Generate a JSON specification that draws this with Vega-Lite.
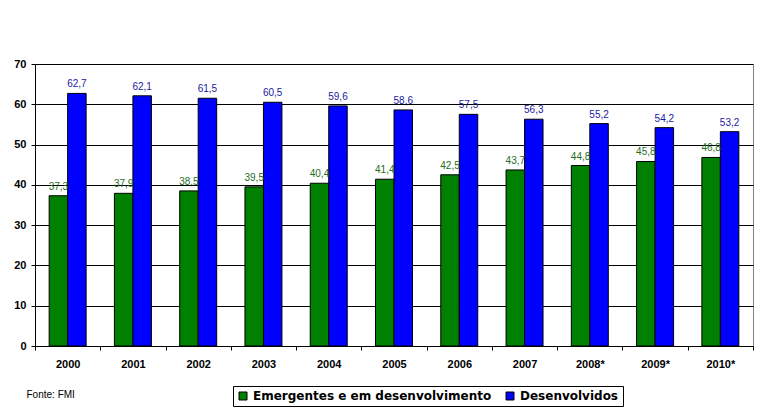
{
  "$schema": "https://vega.github.io/schema/vega-lite/v6.json",
  "autosize": {"type": "none"},
  "width": 718,
  "height": 282,
  "padding": {"left": 35, "top": 64, "right": 14, "bottom": 67},
  "background": "white",
  "config": {
    "locale": {"number": {"decimal": ",", "thousands": ".", "grouping": [3], "currency": ["", ""]}},
    "view": {"stroke": "#808080", "strokeWidth": 1},
    "font": "Liberation Sans"
  },
  "data": {
    "values": [
      {"ano": "2000", "serie": "Emergentes e em desenvolvimento", "valor": 37.3},
      {"ano": "2001", "serie": "Emergentes e em desenvolvimento", "valor": 37.9},
      {"ano": "2002", "serie": "Emergentes e em desenvolvimento", "valor": 38.5},
      {"ano": "2003", "serie": "Emergentes e em desenvolvimento", "valor": 39.5},
      {"ano": "2004", "serie": "Emergentes e em desenvolvimento", "valor": 40.4},
      {"ano": "2005", "serie": "Emergentes e em desenvolvimento", "valor": 41.4},
      {"ano": "2006", "serie": "Emergentes e em desenvolvimento", "valor": 42.5},
      {"ano": "2007", "serie": "Emergentes e em desenvolvimento", "valor": 43.7},
      {"ano": "2008*", "serie": "Emergentes e em desenvolvimento", "valor": 44.8},
      {"ano": "2009*", "serie": "Emergentes e em desenvolvimento", "valor": 45.8},
      {"ano": "2010*", "serie": "Emergentes e em desenvolvimento", "valor": 46.8},
      {"ano": "2000", "serie": "Desenvolvidos", "valor": 62.7},
      {"ano": "2001", "serie": "Desenvolvidos", "valor": 62.1},
      {"ano": "2002", "serie": "Desenvolvidos", "valor": 61.5},
      {"ano": "2003", "serie": "Desenvolvidos", "valor": 60.5},
      {"ano": "2004", "serie": "Desenvolvidos", "valor": 59.6},
      {"ano": "2005", "serie": "Desenvolvidos", "valor": 58.6},
      {"ano": "2006", "serie": "Desenvolvidos", "valor": 57.5},
      {"ano": "2007", "serie": "Desenvolvidos", "valor": 56.3},
      {"ano": "2008*", "serie": "Desenvolvidos", "valor": 55.2},
      {"ano": "2009*", "serie": "Desenvolvidos", "valor": 54.2},
      {"ano": "2010*", "serie": "Desenvolvidos", "valor": 53.2}
    ]
  },
  "encoding": {
    "x": {
      "field": "ano", "type": "nominal", "sort": null,
      "scale": {"paddingInner": 0, "paddingOuter": 0},
      "axis": {
        "title": "Fonte: FMI",
        "titleFontSize": 10, "titleFontWeight": "normal", "titleColor": "black",
        "titleAnchor": "start", "titleAlign": "left", "titleBaseline": "alphabetic",
        "titleX": -9, "titleY": 51,
        "labelAngle": 0, "labelFontWeight": "bold", "labelFontSize": 11, "labelColor": "black",
        "labelPadding": 8, "tickBand": "extent", "tickColor": "black", "tickSize": 4,
        "domainColor": "black", "grid": false
      }
    },
    "xOffset": {
      "field": "serie", "type": "nominal",
      "sort": ["Emergentes e em desenvolvimento", "Desenvolvidos"],
      "scale": {"paddingInner": 0, "paddingOuter": 0.765}
    },
    "y": {
      "field": "valor", "type": "quantitative",
      "scale": {"domain": [0, 70], "nice": false},
      "axis": {
        "title": null, "values": [0, 10, 20, 30, 40, 50, 60, 70],
        "labelFontWeight": "bold", "labelFontSize": 11, "labelColor": "black", "labelPadding": 5,
        "tickColor": "black", "tickSize": 4, "domainColor": "black",
        "gridColor": "black", "gridOpacity": 1, "gridWidth": 1
      }
    }
  },
  "layer": [
    {
      "mark": {"type": "bar", "stroke": "black", "strokeWidth": 1},
      "encoding": {
        "color": {
          "field": "serie", "type": "nominal",
          "sort": ["Emergentes e em desenvolvimento", "Desenvolvidos"],
          "scale": {"domain": ["Emergentes e em desenvolvimento", "Desenvolvidos"], "range": ["#008000", "#0000FF"]},
          "legend": {
            "title": null, "orient": "none", "legendX": 198, "legendY": 322,
            "direction": "horizontal", "strokeColor": "black", "padding": 4,
            "symbolType": "square", "symbolSize": 64, "symbolStrokeColor": "black", "symbolStrokeWidth": 1,
            "symbolOpacity": 1,
            "labelFont": "DejaVu Sans", "labelFontSize": 12, "labelFontWeight": "bold", "labelColor": "black",
            "labelLimit": 400, "columnPadding": 12, "labelOffset": 4
          }
        }
      }
    },
    {
      "mark": {"type": "text", "baseline": "bottom", "dy": -4, "fontSize": 10},
      "encoding": {
        "text": {"field": "valor", "type": "quantitative", "format": ".1f"},
        "color": {
          "field": "serie", "type": "nominal",
          "scale": {"domain": ["Emergentes e em desenvolvimento", "Desenvolvidos"], "range": ["#1E6E1E", "#1A1AA0"]},
          "legend": null
        }
      }
    }
  ],
  "resolve": {"scale": {"color": "independent"}}
}
